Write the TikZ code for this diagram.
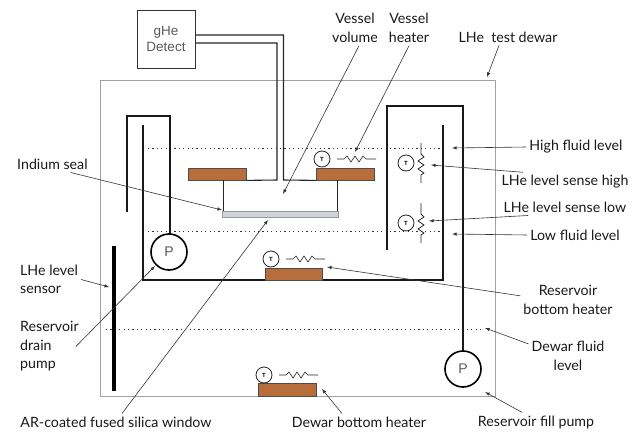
\documentclass[tikz,border=0pt]{standalone}
\usepackage{fontspec}
\setmainfont{Lato}
\newfontfamily\helv{Liberation Sans}
\definecolor{copper}{RGB}{184,110,58}
\definecolor{dewargray}{RGB}{160,160,160}
\definecolor{glass}{RGB}{208,212,216}
\definecolor{textgray}{RGB}{90,90,90}
\tikzset{
  lbl/.style={font=\fontsize{14.2}{18.5}\selectfont, align=center, inner sep=3pt, text=black!90},
  plate/.style={draw=black!70, fill=copper, line width=0.8pt},
  tube/.style={line width=1.1pt, black!85},
  heavy/.style={line width=2.2pt, black!90},
  level/.style={line width=1pt, black!80, dash pattern=on 1.2pt off 3.2pt},
  callout/.style={-latex, line width=0.6pt, black!80},
  tsense/.style={draw=black!85, circle, line width=0.8pt, minimum size=16pt, inner sep=0pt, fill=white, font=\helv\fontsize{6}{6}\selectfont\bfseries},
  pump/.style={draw=black, circle, line width=1.6pt, minimum size=36pt, inner sep=0pt, fill=white, text=textgray, font=\helv\fontsize{14}{14}\selectfont},
}
\begin{document}
\begin{tikzpicture}[x=1pt,y=-1pt]
  \useasboundingbox (0,0) rectangle (641,434);

  % dewar wall
  \draw[dewargray, line width=1pt] (100,80) rectangle (495,396);

  % fluid levels
  \draw[level] (148,148) -- (442,148);
  \draw[level] (148,231) -- (442,231);
  \draw[level] (106,329) -- (482,329);

  % gas line and vessel
  \node[draw=black!80, line width=0.8pt, minimum width=58pt, minimum height=58pt, inner sep=0pt, text=textgray, align=center, font=\helv\fontsize{13.5}{16}\selectfont] (detect) at (166,39) {gHe\\Detect};
  \coordinate (ventouter) at (195,35);
  \coordinate (ventinner) at (195,43);
  \node[plate, minimum width=58pt, minimum height=12pt, inner sep=0pt] (plateleft) at (217,174) {};
  \node[plate, minimum width=58pt, minimum height=12pt, inner sep=0pt] (plateright) at (345.5,174) {};
  \draw[tube] (ventouter) -- (283.5,35) -- (283.5,180) -- (plateright.south west);
  \draw[tube] (ventinner) -- (277,43) -- (277,180) -- (plateleft.south east);
  \draw[line width=0.9pt, black!85] (223,180) -- (223,211);
  \draw[line width=0.9pt, black!85] (337,180) -- (337,211);
  \node[draw=black!40, fill=glass, line width=0.8pt, minimum width=116pt, minimum height=6pt, inner sep=0pt] (window) at (280,214) {};

  % reservoir
  \draw[heavy] (127,212) -- (127,116) -- (170,116) -- (170,234);
  \draw[line width=1.4pt, black!90] (143,125) -- (143,280) -- (443,280) -- (443,125);
  \draw[heavy] (387,250) -- (387,106) -- (463,106) -- (463,351);
  \node[pump] (drainpump) at (169,252) {P};
  \node[pump] (fillpump) at (463,369) {P};

  % level sensor rod
  \draw[black, line width=4pt] (114,246) -- (114,391);

  % heaters
  \node[plate, minimum width=57pt, minimum height=12pt, inner sep=0pt] (platebottom) at (293.5,274) {};
  \node[plate, minimum width=58pt, minimum height=13pt, inner sep=0pt] (platedewar) at (287,389.5) {};
  \foreach \x/\y/\nm in {322/159/vessel, 271/259/bottom, 264/375/dewar}{
    \node[tsense] (t\nm) at (\x,\y) {T};
    \draw[line width=0.6pt, black!85, shift={(\x,\y)}] (15,0) -- (22,0) -- (25,-3) -- (29,3) -- (33,-3) -- (37,3) -- (41,-3) -- (44,0) -- (54,0);
  }

  % level sense elements
  \foreach \y/\nm in {163/high, 223/low}{
    \node[tsense] (t\nm) at (406,\y) {T};
    \draw[line width=0.8pt, black!85, shift={(421,\y)}] (0,-20) -- (0,-9) -- (3,-6) -- (-3,-2) -- (3,2) -- (-3,6) -- (3,10) -- (0,12) -- (0,20);
  }

  % labels
  \node[lbl] (vesselvolume) at (355,28) {Vessel\\volume};
  \node[lbl] (vesselheater) at (409,28) {Vessel\\heater};
  \node[lbl] (testdewar) at (508,37) {LHe\ \ test dewar};
  \node[lbl, anchor=west] (indiumseal) at (14,164) {Indium seal};
  \node[lbl] (highlevel) at (576,147) {High fluid level};
  \node[lbl] (sensehigh) at (565,182) {LHe level sense high};
  \node[lbl] (senselow) at (565,207) {LHe level sense low};
  \node[lbl] (lowlevel) at (575,235) {Low fluid level};
  \node[lbl] (bottomheater) at (568,300) {Reservoir\\bottom heater};
  \node[lbl] (dewarlevel) at (568,356) {Dewar fluid\\level};
  \node[lbl] (fillpumplbl) at (536,422) {Reservoir fill pump};
  \node[lbl] (dewarheater) at (359,422) {Dewar bottom heater};
  \node[lbl] (windowlbl) at (116,422) {AR-coated fused silica window};
  \node[lbl, align=left, anchor=west] (rodlbl) at (17,279.5) {LHe level\\sensor};
  \node[lbl, align=left, anchor=west] (drainlbl) at (17,346.5) {Reservoir\\drain\\pump};

  % callouts
  \coordinate (volumetip) at (283,194);
  \coordinate (heatertip) at (355,152);
  \coordinate (dewartip) at (487,77);
  \coordinate (sealtip) at (222,210);
  \coordinate (hightip) at (452,148);
  \coordinate (sensehightip) at (431,165);
  \coordinate (senselowtip) at (429,221);
  \coordinate (lowtip) at (452,234);
  \coordinate (bottomtip) at (327,267);
  \coordinate (leveltip) at (485,328);
  \coordinate (filltip) at (485,392);
  \coordinate (dewarheatertip) at (322,389);
  \coordinate (windowtip) at (268,220);
  \coordinate (rodtip) at (109,287);
  \coordinate (draintip) at (155,266);
  \draw[callout] ([xshift=4pt]vesselvolume.south) -- (volumetip);
  \draw[callout] (vesselheater.south) -- (heatertip);
  \draw[callout] ([xshift=-9pt]testdewar.south) -- (dewartip);
  \draw[callout] (indiumseal.335) -- (sealtip);
  \draw[callout] (highlevel.west) -- (hightip);
  \draw[callout] (sensehigh.167) -- (sensehightip);
  \draw[callout] (senselow.193) -- (senselowtip);
  \draw[callout] (lowlevel.west) -- (lowtip);
  \draw[callout] (bottomheater.175) -- (bottomtip);
  \draw[callout] (dewarlevel.163) -- (leveltip);
  \draw[callout] ([xshift=-14pt]fillpumplbl.north) -- (filltip);
  \draw[callout] ([xshift=-17pt]dewarheater.north) -- (dewarheatertip);
  \draw[callout] ([xshift=6pt]windowlbl.north) -- (windowtip);
  \draw[callout] (rodlbl.east) -- (rodtip);
  \draw[callout] ([xshift=-6pt]drainlbl.east) -- (draintip);
\end{tikzpicture}
\end{document}
